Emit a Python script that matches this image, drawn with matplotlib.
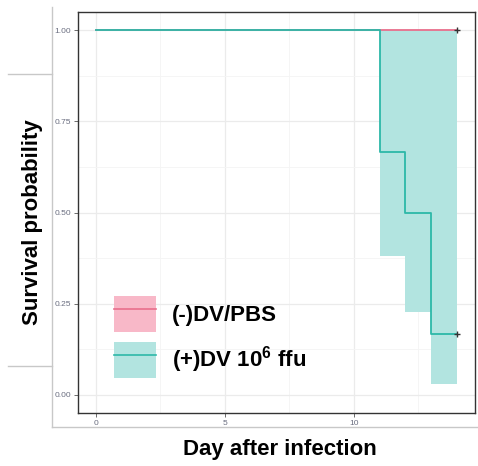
import numpy as np
import matplotlib
matplotlib.use("Agg")
from matplotlib import pyplot as plt
from matplotlib.patches import Patch
from matplotlib.lines import Line2D

plt.rcParams['font.family'] = ['Liberation Sans', 'DejaVu Sans']
plt.rcParams['mathtext.fontset'] = 'custom'
plt.rcParams['mathtext.bf'] = 'Liberation Sans:bold'
plt.rcParams['mathtext.rm'] = 'Liberation Sans'

# survival data (Kaplan-Meier steps)
pbs_time = [0, 14]
pbs_surv = [1.0, 1.0]
pbs_lower = [1.0, 1.0]
pbs_upper = [1.0, 1.0]

dv_time = [0, 11, 12, 13, 14]
dv_surv = [1.0, 0.667, 0.5, 0.167, 0.167]
dv_lower = [1.0, 0.38, 0.227, 0.029, 0.029]
dv_upper = [1.0, 1.0, 1.0, 1.0, 1.0]

censor_time = [14, 14]
censor_surv = [1.0, 0.167]

labels = ['(-)DV/PBS', r'(+)DV 10$^{\mathbf{6}}$ ffu']
xticks = [0, 5, 10]
yticks = [0.0, 0.25, 0.5, 0.75, 1.0]

pink_line = '#E96F8C'
pink_fill = '#F8B8C8'
teal_line = '#2DB8A8'
teal_fill = '#B2E4E0'

fig = plt.figure(figsize=(4.78, 4.66), dpi=100)
ax = fig.add_axes([78/478, 53/466, 397/478, 401/466])

# grid
ax.set_xticks(xticks)
ax.set_yticks(yticks)
ax.set_xticks([2.5, 7.5, 12.5], minor=True)
ax.set_yticks([0.125, 0.375, 0.625, 0.875], minor=True)
ax.grid(which='major', color='#EBEBEB', lw=0.9)
ax.grid(which='minor', color='#F4F4F4', lw=0.6)
ax.set_axisbelow(True)
ax.tick_params(which='minor', length=0)

ax.fill_between(pbs_time, pbs_lower, pbs_upper, step='post', color=pink_fill, lw=0)
ax.fill_between(dv_time, dv_lower, dv_upper, step='post', color=teal_fill, lw=0)
ax.step(pbs_time, pbs_surv, where='post', color=pink_line, lw=1.3)
ax.step(dv_time, dv_surv, where='post', color=teal_line, lw=1.3)
ax.plot(censor_time, censor_surv, '+', color='#333333', ms=4, mew=1)

ax.set_xlim(-0.7, 14.7)
ax.set_ylim(-0.05, 1.05)
ax.set_xticklabels([str(t) for t in xticks])
ax.set_yticklabels(['%.2f' % t for t in yticks])
ax.tick_params(which='major', labelsize=6, labelcolor='#6A6E80', color='#555555',
               length=3, width=0.6, pad=2)
for s in ax.spines.values():
    s.set_color('#333333')
    s.set_linewidth(1.0)

handles = [(Patch(facecolor=pink_fill, lw=0), Line2D([], [], color=pink_line, lw=1.2)),
           (Patch(facecolor=teal_fill, lw=0), Line2D([], [], color=teal_line, lw=1.2))]
leg = ax.legend(handles, labels, loc='upper left', bbox_to_anchor=(0.091, 0.291),
                frameon=False, borderpad=0, borderaxespad=0, handlelength=1.9,
                handleheight=2.1, labelspacing=0.45, handletextpad=0.7,
                prop={'size': 16, 'weight': 'bold'})

fig.text(0.585, 0.036, 'Day after infection', ha='center', va='center',
         fontsize=16, fontweight='bold')
fig.text(0.067, 0.524, 'Survival probability', ha='center', va='center',
         rotation=90, fontsize=16, fontweight='bold')

# frame lines from the pasted slide
H = 466.0
W = 478.0
gray = '#C8C8C8'
fig.add_artist(Line2D([52/W, 52/W], [1 - 7/H, 1 - 427/H], color=gray, lw=1))
fig.add_artist(Line2D([52/W, 1.0], [1 - 427/H, 1 - 427/H], color=gray, lw=1))
fig.add_artist(Line2D([8/W, 52/W], [1 - 74/H, 1 - 74/H], color=gray, lw=1))
fig.add_artist(Line2D([8/W, 52/W], [1 - 366/H, 1 - 366/H], color=gray, lw=1))

fig.savefig('out.png', dpi=100)
